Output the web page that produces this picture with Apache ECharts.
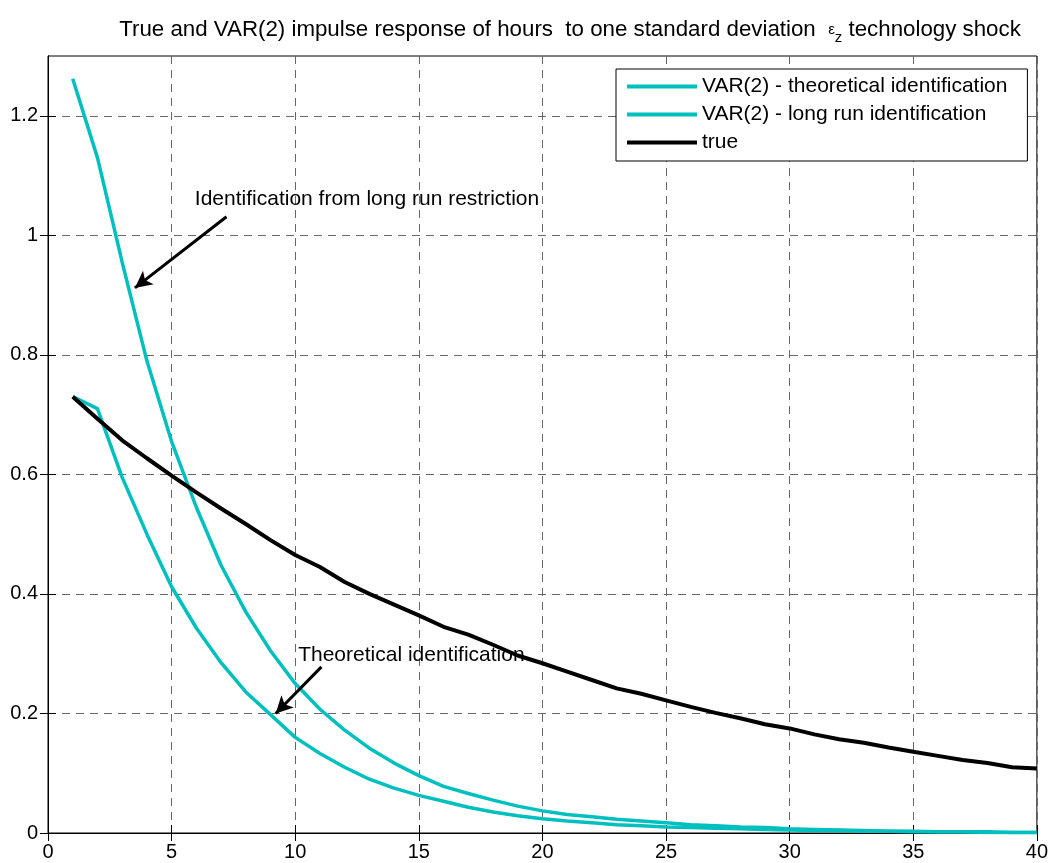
<!DOCTYPE html>
<html>
<head>
<meta charset="utf-8">
<script src="https://cdn.jsdelivr.net/npm/echarts@6/dist/echarts.min.js"></script>
<style>
html,body{margin:0;padding:0;background:#fff;}
#chart{width:1051px;height:863px;}
</style>
</head>
<body>
<div id="chart"></div>
<script>
// ---- data ----
const periods = [1,2,3,4,5,6,7,8,9,10,11,12,13,14,15,16,17,18,19,20,21,22,23,24,25,26,27,28,29,30,31,32,33,34,35,36,37,38,39,40];
const varTheoretical = [0.730,0.710,0.595,0.500,0.412,0.343,0.285,0.236,0.198,0.160,0.133,0.110,0.090,0.075,0.063,0.053,0.043,0.035,0.029,0.024,0.020,0.017,0.014,0.012,0.010,0.009,0.008,0.007,0.006,0.005,0.004,0.004,0.003,0.003,0.002,0.002,0.002,0.001,0.001,0.001];
const varLongRun = [1.262,1.130,0.955,0.790,0.655,0.545,0.448,0.370,0.305,0.250,0.207,0.172,0.142,0.117,0.096,0.078,0.066,0.055,0.045,0.037,0.031,0.027,0.023,0.020,0.017,0.014,0.012,0.010,0.009,0.007,0.006,0.005,0.004,0.003,0.003,0.002,0.002,0.002,0.001,0.001];
const trueResponse = [0.730,0.693,0.657,0.627,0.598,0.570,0.543,0.517,0.490,0.465,0.445,0.420,0.400,0.382,0.364,0.345,0.332,0.315,0.297,0.284,0.270,0.256,0.242,0.233,0.222,0.211,0.201,0.192,0.182,0.175,0.165,0.157,0.151,0.143,0.136,0.129,0.122,0.117,0.110,0.108];
const seriesNames = ['VAR(2) - theoretical identification','VAR(2) - long run identification','true'];
const titleText = 'True and VAR(2) impulse response of hours  to one standard deviation  {e|\u03b5}{s|z} technology shock';
const yTickValues = [0,0.2,0.4,0.6,0.8,1,1.2];
const annotationTexts = ['Identification from long run restriction','Theoretical identification'];
const annotationTextAt = [[5.94,1.061],[10.12,0.297]];
const arrowFrom = [[7.22,1.031],[11.06,0.278]];
const arrowTo = [[3.515,0.912],[9.21,0.200]];

const FONT = "'Liberation Sans', Arial, sans-serif";
const CYAN = '#00bfbf';
const pairs = ys => periods.map((p,i)=>[p, ys[i]]);

const chart = echarts.init(document.getElementById('chart'), null, {renderer:'canvas'});
const gridLine = {show:true, lineStyle:{color:'#666', width:1, type:[8,6]}};
chart.setOption({
  animation:false,
  backgroundColor:'#fff',
  title:{
    text:titleText,
    left:565, top:9, textAlign:'center',
    textStyle:{
      fontFamily:FONT, fontSize:22.3, fontWeight:'normal', color:'#000',
      rich:{
        e:{fontFamily:FONT, fontSize:15, color:'#000'},
        s:{fontFamily:FONT, fontSize:15, color:'#000', padding:[16,0,0,0]}
      }
    }
  },
  grid:{left:48, right:13, top:56, bottom:30, show:true, borderColor:'#000', borderWidth:1, backgroundColor:'transparent'},
  legend:{
    orient:'vertical', left:616, top:69,
    padding:[7,20,8,11], itemGap:7, itemWidth:70, itemHeight:4, icon:'rect',
    borderColor:'#000', borderWidth:1, backgroundColor:'#fff',
    textStyle:{fontFamily:FONT, fontSize:21, color:'#000'},
    data:seriesNames
  },
  xAxis:[
    {type:'value', min:0, max:40, interval:5, position:'bottom',
     axisLine:{show:true, lineStyle:{color:'#000'}},
     axisTick:{show:true, inside:true, length:8, lineStyle:{color:'#000'}},
     axisLabel:{fontFamily:FONT, fontSize:20, color:'#000', margin:9},
     splitLine:gridLine},
    {type:'value', min:0, max:40, interval:5, position:'top',
     axisLine:{show:true, lineStyle:{color:'#000'}},
     axisTick:{show:true, inside:true, length:8, lineStyle:{color:'#000'}},
     axisLabel:{show:false}, splitLine:{show:false}}
  ],
  yAxis:[
    {type:'value', min:0, max:1.3, interval:0.2, position:'left',
     axisLine:{show:true, lineStyle:{color:'#000'}},
     axisTick:{show:true, inside:true, length:8, lineStyle:{color:'#000'}, customValues:yTickValues},
     axisLabel:{fontFamily:FONT, fontSize:20, color:'#000', margin:10, showMaxLabel:false},
     splitLine:gridLine},
    {type:'value', min:0, max:1.3, interval:0.2, position:'right',
     axisLine:{show:true, lineStyle:{color:'#000'}},
     axisTick:{show:true, inside:true, length:8, lineStyle:{color:'#000'}, customValues:yTickValues},
     axisLabel:{show:false}, splitLine:{show:false}}
  ],
  series:[
    {name:seriesNames[0], type:'line', data:pairs(varTheoretical), symbol:'none', smooth:false,
     lineStyle:{color:CYAN, width:3.5}, itemStyle:{color:CYAN}, z:2},
    {name:seriesNames[1], type:'line', data:pairs(varLongRun), symbol:'none', smooth:false,
     lineStyle:{color:CYAN, width:3.5}, itemStyle:{color:CYAN}, z:2},
    {name:seriesNames[2], type:'line', data:pairs(trueResponse), symbol:'none', smooth:false,
     lineStyle:{color:'#000', width:4}, itemStyle:{color:'#000'}, z:3},
    {name:'annotations', type:'line', data:[], symbol:'none', silent:true, z:4,
     markLine:{
       silent:true, symbol:['none','arrow'], symbolSize:[13,17],
       lineStyle:{color:'#000', width:3, type:'solid'},
       label:{show:false},
       data:arrowFrom.map((f,i)=>[{coord:f},{coord:arrowTo[i]}])
     },
     markPoint:{
       silent:true, symbol:'circle', symbolSize:0,
       label:{show:true, position:'right', distance:0, fontFamily:FONT, fontSize:21, color:'#000',
              formatter:p=>p.name},
       data:annotationTextAt.map((c,i)=>({coord:c, name:annotationTexts[i], value:0}))
     }}
  ]
});
</script>
</body>
</html>
